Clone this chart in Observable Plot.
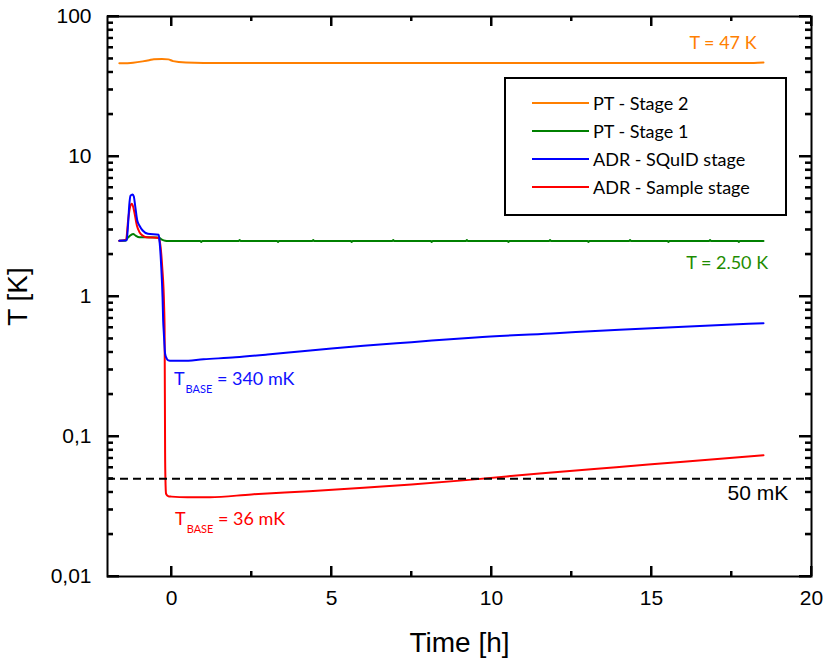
<!DOCTYPE html>
<html><head><meta charset="utf-8">
<script src="https://cdn.jsdelivr.net/npm/d3@7"></script>
<script src="https://cdn.jsdelivr.net/npm/@observablehq/plot@0.6"></script>
<style>
body{margin:0;background:#fff;}
#wrap{position:relative;width:838px;height:665px;}
g[aria-label="x-axis label"] text, g[aria-label="y-axis label"] text {font-size:28px;}
.legend{position:absolute;left:504px;top:77px;width:279px;height:135px;border:2px solid #000;background:#fff;font-family:Lato,sans-serif;font-size:18px;color:#000;}
.legend .row{position:absolute;left:0;height:24px;display:flex;align-items:center;white-space:nowrap;}
.legend .sw{display:inline-block;width:57px;height:2px;margin-left:26px;margin-right:4px;}
</style></head>
<body><div id="wrap"></div>
<script>
// ---- data ----
const seriesNames = ["PT - Stage 2", "PT - Stage 1", "ADR - SQuID stage", "ADR - Sample stage"];
const seriesColors = ["#FF7F00", "#008000", "#0000FF", "#FF0000"];

const stage2Time = [-1.63, -1.2, -0.9, -0.7, -0.55, -0.3, -0.1, 0.05, 0.45, 1.0, 18.2, 18.5];
const stage2Temp = [46.3, 46.8, 47.8, 48.7, 49.6, 49.8, 49.4, 48.0, 46.9, 46.6, 46.6, 46.9];

const stage1Time = [-1.63, -1.45, -1.38, -1.3, -1.2, -1.12, -1.0, -0.45, -0.38, -0.3, -0.2, -0.1,
  0.9, 0.93, 0.96, 2.1, 2.13, 2.16, 3.3, 3.33, 3.36, 4.4, 4.43, 4.46, 5.6, 5.63, 5.66,
  6.9, 6.93, 6.96, 8.1, 8.13, 8.16, 9.2, 9.23, 9.26, 10.5, 10.53, 10.56, 11.8, 11.83, 11.86,
  13.0, 13.03, 13.06, 14.3, 14.33, 14.36, 15.5, 15.53, 15.56, 16.8, 16.83, 16.86, 17.7, 17.73, 17.76, 18.5];
const stage1Temp = [2.5, 2.5, 2.6, 2.72, 2.8, 2.72, 2.65, 2.64, 2.62, 2.55, 2.5, 2.49,
  2.49, 2.45, 2.49, 2.49, 2.53, 2.49, 2.49, 2.45, 2.49, 2.49, 2.53, 2.49, 2.49, 2.45, 2.49,
  2.49, 2.53, 2.49, 2.49, 2.45, 2.49, 2.49, 2.53, 2.49, 2.49, 2.45, 2.49, 2.49, 2.53, 2.49,
  2.49, 2.45, 2.49, 2.49, 2.53, 2.49, 2.49, 2.45, 2.49, 2.49, 2.53, 2.49, 2.49, 2.45, 2.49, 2.49];

const squidTime = [-1.63, -1.4, -1.36, -1.32, -1.28, -1.22, -1.18, -1.13, -1.07, -1.0, -0.9, -0.74, -0.4,
  -0.375, -0.32, -0.28, -0.26, -0.24, -0.22, -0.2, -0.15, -0.1, 0, 0.35, 1, 2, 3, 4, 5, 6, 7.5, 9.5, 12, 14, 16, 18.5];
const squidTemp = [2.5, 2.52, 3.2, 4.5, 5.25, 5.35, 5.2, 4.35, 3.49, 3.2, 2.96, 2.81, 2.76,
  2.5, 1.62, 0.99, 0.67, 0.55, 0.45, 0.39, 0.36, 0.35, 0.347, 0.347, 0.356, 0.368, 0.385, 0.405, 0.425, 0.445, 0.472, 0.51, 0.547, 0.578, 0.608, 0.645];

const sampleTime = [-1.63, -1.42, -1.35, -1.3, -1.24, -1.2, -1.16, -1.08, -1.0, -0.9, -0.79, -0.4,
  -0.37, -0.29, -0.23, -0.215, -0.2, -0.19, -0.17, -0.1, 0, 0.5, 1.2, 2.5, 4.3, 6, 7.5, 9.3, 11.5, 13.9, 16, 18.5];
const sampleTemp = [2.5, 2.55, 3.6, 4.3, 4.6, 4.4, 4.0, 3.2, 2.88, 2.72, 2.65, 2.62,
  2.5, 1.62, 0.84, 0.57, 0.077, 0.05, 0.039, 0.0374, 0.0372, 0.0368, 0.0368, 0.0386, 0.0407, 0.043, 0.0455, 0.049, 0.0545, 0.0604, 0.066, 0.0735];

const referenceLevel = 0.05;

const xDomain = [-2, 20];
const yDomain = [0.01, 100];
const xTicks = [0, 5, 10, 15, 20];
const xMinorTicks = [2.5, 7.5, 12.5, 17.5];
const yTicks = [0.01, 0.1, 1, 10, 100];
const yTickLabels = ["0,01", "0,1", "1", "10", "100"];

const annotations = [
  {x: 18.3, y: 58, main: "T = 47 K", sub: "", rest: "", color: "#FF8000", anchor: "end"},
  {x: 18.66, y: 1.56, main: "T = 2.50 K", sub: "", rest: "", color: "#1E8C00", anchor: "end"},
  {x: 0.09, y: 0.231, main: "T", sub: "BASE", rest: " = 340 mK", color: "#1010FF", anchor: "start"},
  {x: 0.125, y: 0.0231, main: "T", sub: "BASE", rest: " = 36 mK", color: "#FF0000", anchor: "start"}
];
const refLabel = {x: 19.29, y: 0.0349, text: "50 mK"};

// ---- build tables ----
const series = [
  [stage2Time, stage2Temp, 0],
  [stage1Time, stage1Temp, 1],
  [sampleTime, sampleTemp, 3],
  [squidTime, squidTemp, 2]
];
const lines = series.map(([ts, vs, idx]) =>
  ts.map((t, i) => ({t, T: vs[i], name: seriesNames[idx], color: seriesColors[idx]})));

const yMinor = [];
for (const d of [0.01, 0.1, 1, 10]) for (let m = 2; m <= 9; m++) yMinor.push(+(d * m).toPrecision(3));

// frame geometry (used for tick lengths)
const W = 838, H = 665, ML = 107, MR = 27, MT = 16, MB = 89;
const FW = W - ML - MR, FH = H - MT - MB;
const pxPerHour = FW / (xDomain[1] - xDomain[0]);
const pxPerDecade = FH / Math.log10(yDomain[1] / yDomain[0]);
const dX = px => px / pxPerHour;
const fY = px => Math.pow(10, px / pxPerDecade);

const tickStroke = {stroke: "#000", strokeWidth: 2};

const chart = Plot.plot({
  width: W,
  height: H,
  marginLeft: ML,
  marginRight: MR,
  marginTop: MT,
  marginBottom: MB,
  style: {fontFamily: "'Liberation Sans', Arial, sans-serif", fontSize: "21px", color: "#000", background: "#fff"},
  x: {domain: xDomain},
  y: {type: "log", domain: yDomain},
  marks: [
    ...lines.map(L => Plot.line(L, {x: "t", y: "T", stroke: L[0].color, strokeWidth: 2, curve: "monotone-x"})),
    Plot.ruleY([referenceLevel], {stroke: "#000", strokeWidth: 2, strokeDasharray: "8,5"}),
    Plot.frame({stroke: "#000", strokeWidth: 2}),
    // inward ticks (bottom / top / left / right)
    Plot.ruleX(xTicks, {x: d => d, y1: yDomain[0], y2: yDomain[0] * fY(10), ...tickStroke}),
    Plot.ruleX(xMinorTicks, {x: d => d, y1: yDomain[0], y2: yDomain[0] * fY(5), ...tickStroke}),
    Plot.ruleX(xTicks, {x: d => d, y1: yDomain[1] / fY(10), y2: yDomain[1], ...tickStroke}),
    Plot.ruleX(xMinorTicks, {x: d => d, y1: yDomain[1] / fY(5), y2: yDomain[1], ...tickStroke}),
    Plot.ruleY(yTicks, {y: d => d, x1: xDomain[0], x2: xDomain[0] + dX(12), ...tickStroke}),
    Plot.ruleY(yMinor, {y: d => d, x1: xDomain[0], x2: xDomain[0] + dX(6), ...tickStroke}),
    Plot.ruleY(yTicks, {y: d => d, x1: xDomain[1] - dX(12), x2: xDomain[1], ...tickStroke}),
    Plot.ruleY(yMinor, {y: d => d, x1: xDomain[1] - dX(6), x2: xDomain[1], ...tickStroke}),
    // labels
    Plot.axisX(xTicks, {anchor: "bottom", tickSize: 0, tickPadding: 14, label: "Time [h]", labelAnchor: "center", labelArrow: "none", labelOffset: 75}),
    Plot.axisY(yTicks, {anchor: "left", tickSize: 0, tickPadding: 16, tickFormat: d => yTickLabels[yTicks.indexOf(d)], label: "T [K]", labelAnchor: "center", labelArrow: "none", labelOffset: 100})
  ]
});

document.getElementById("wrap").appendChild(chart);

const sx = chart.scale("x"), sy = chart.scale("y");
const svg = d3.select(chart);

// inward tick marks, placed through the chart's own scales
const tickPath = d3.path();
const x0 = sx.apply(xDomain[0]), x1 = sx.apply(xDomain[1]);
const y0 = sy.apply(yDomain[0]), y1 = sy.apply(yDomain[1]);
for (const [vals, len] of [[xTicks, 10], [xMinorTicks, 5]]) for (const v of vals) {
  const px = sx.apply(v);
  tickPath.moveTo(px, y0); tickPath.lineTo(px, y0 - len);
  tickPath.moveTo(px, y1); tickPath.lineTo(px, y1 + len);
}
for (const [vals, len] of [[yTicks, 12], [yMinor, 6]]) for (const v of vals) {
  const py = sy.apply(v);
  tickPath.moveTo(x0, py); tickPath.lineTo(x0 + len, py);
  tickPath.moveTo(x1, py); tickPath.lineTo(x1 - len, py);
}
svg.append("path").attr("d", tickPath.toString()).attr("fill", "none").attr("stroke", "#000").attr("stroke-width", 2);

// annotations with subscripts
for (const a of annotations) {
  const t = svg.append("text")
    .attr("x", sx.apply(a.x)).attr("y", sy.apply(a.y))
    .attr("text-anchor", a.anchor)
    .attr("fill", a.color)
    .style("font-family", "Lato, sans-serif").style("font-size", "18px");
  t.append("tspan").text(a.main);
  if (a.sub) {
    t.append("tspan").attr("dy", 8).attr("dx", 1).style("font-size", "11px").text(a.sub);
    t.append("tspan").attr("dy", -8).text(a.rest);
  }
}
svg.append("text")
  .attr("x", sx.apply(refLabel.x)).attr("y", sy.apply(refLabel.y))
  .attr("text-anchor", "end").attr("fill", "#000")
  .style("font-family", "'Liberation Sans', Arial, sans-serif").style("font-size", "21px")
  .text(refLabel.text);

// legend
const legend = document.createElement("div");
legend.className = "legend";
const rowCenters = [24, 52, 80, 108];
seriesNames.forEach((n, i) => {
  const row = document.createElement("div");
  row.className = "row";
  row.style.top = (rowCenters[i] - 12) + "px";
  const sw = document.createElement("span");
  sw.className = "sw";
  sw.style.background = seriesColors[i];
  const lab = document.createElement("span");
  lab.textContent = n;
  row.appendChild(sw); row.appendChild(lab);
  legend.appendChild(row);
});
document.getElementById("wrap").appendChild(legend);
</script>
</body></html>
